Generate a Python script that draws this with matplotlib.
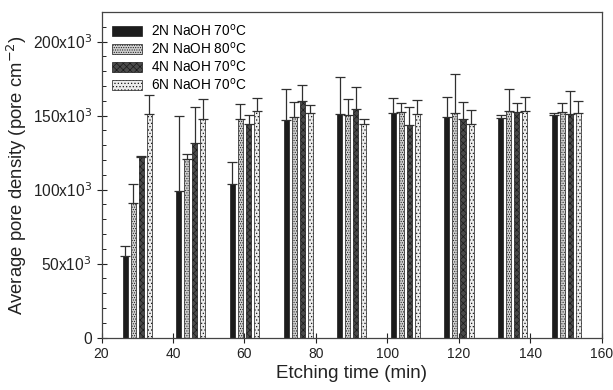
import numpy as np
import matplotlib
matplotlib.use("Agg")
import matplotlib.pyplot as plt
from matplotlib.ticker import MultipleLocator, FuncFormatter

plt.rcParams['font.family'] = ['Liberation Sans', 'DejaVu Sans']
plt.rcParams['hatch.linewidth'] = 0.5

# etching time (min) for each group of bars
times = [30, 45, 60, 75, 90, 105, 120, 135, 150]

labels = ['2N NaOH 70$^{\\rm o}$C', '2N NaOH 80$^{\\rm o}$C',
          '4N NaOH 70$^{\\rm o}$C', '6N NaOH 70$^{\\rm o}$C']

# mean pore density (x10^3 pore cm^-2)
n2_70 = [55.4, 98.9, 103.8, 147.2, 150.8, 151.7, 149.0, 148.5, 150.6]
n2_80 = [90.6, 120.7, 147.8, 149.2, 150.1, 152.6, 151.5, 153.2, 152.1]
n4_70 = [122.0, 131.4, 144.5, 160.2, 154.6, 143.8, 147.8, 152.1, 151.3]
n6_70 = [151.2, 148.0, 153.4, 151.5, 144.0, 151.3, 144.0, 153.4, 152.0]

# upper error bar (x10^3)
err_2_70 = [6.6, 51.1, 14.8, 20.6, 25.2, 10.5, 13.5, 1.6, 0.9]
err_2_80 = [13.2, 3.6, 10.1, 10.3, 11.2, 5.6, 26.5, 14.8, 6.7]
err_4_70 = [0.7, 24.5, 5.6, 10.7, 14.7, 12.1, 11.5, 6.5, 15.1]
err_6_70 = [12.5, 13.3, 8.6, 5.6, 3.8, 9.5, 10.0, 9.0, 7.6]

means = [n2_70, n2_80, n4_70, n6_70]
errs = [err_2_70, err_2_80, err_4_70, err_6_70]

colors = ['#1c1c1c', '#cfcfcf', '#4a4a4a', '#ececec']
hatches = [None, '.......', 'xxxxx', '.....']
offsets = [-3.375, -1.125, 1.125, 3.375]

fig = plt.figure(figsize=(6.13, 3.90), dpi=100)
ax = fig.add_axes([0.1656, 0.1346, 0.8164, 0.8345])

x = np.array(times, dtype=float)
for m, e, c, h, off, lab in zip(means, errs, colors, hatches, offsets, labels):
    vals = np.array(m) * 1000
    ee = np.array(e) * 1000
    ax.bar(x + off, vals, width=1.4, color=c, hatch=h, edgecolor='#1a1a1a',
           linewidth=0.5, label=lab,
           yerr=[np.zeros_like(ee), ee], capsize=3.8,
           error_kw=dict(ecolor='#303030', elinewidth=0.9, capthick=0.9))

ax.set_xlim(20, 160)
ax.set_ylim(0, 220000)
ax.xaxis.set_major_locator(MultipleLocator(20))
ax.yaxis.set_major_locator(MultipleLocator(50000))
ax.yaxis.set_minor_locator(MultipleLocator(10000))


def yfmt(v, pos):
    if v == 0:
        return '0'
    return '%dx10$^3$' % int(round(v / 1000))


ax.yaxis.set_major_formatter(FuncFormatter(yfmt))
ax.tick_params(axis='both', which='major', direction='inout', length=7,
               width=0.8, colors='#222222')
ax.tick_params(axis='x', which='major', labelsize=10)
ax.tick_params(axis='y', which='major', labelsize=11.2)
ax.tick_params(axis='y', which='minor', direction='in', length=3, width=0.6)
for s in ax.spines.values():
    s.set_color('#444444')
    s.set_linewidth(0.9)

ax.set_xlabel('Etching time (min)', fontsize=13.5, color='#222222', labelpad=3)
ax.set_ylabel('Average pore density (pore cm$^{-2}$)', fontsize=13.3,
              color='#222222', labelpad=3)

ax.legend(loc='upper left', frameon=False, fontsize=9.8, handlelength=2.2,
          handleheight=0.75, labelspacing=0.15, handletextpad=0.6,
          borderaxespad=0.4, bbox_to_anchor=(0.0, 1.0))

fig.savefig('out.png', dpi=100)
